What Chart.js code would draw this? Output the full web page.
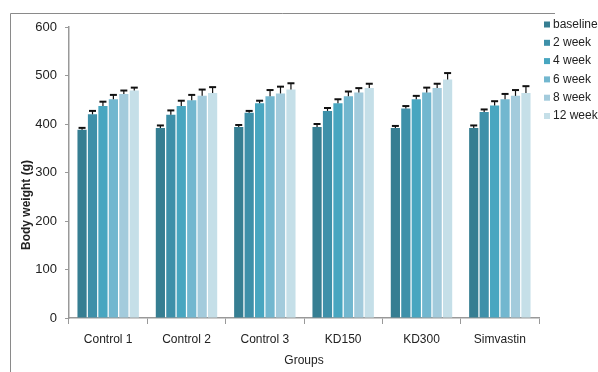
<!DOCTYPE html>
<html><head><meta charset="utf-8">
<script src="https://cdn.jsdelivr.net/npm/chart.js@4/dist/chart.umd.min.js"></script>
<style>html,body{margin:0;padding:0;background:#fff}#wrap{width:598px;height:372px;position:relative}</style>
</head><body><div id="wrap"><canvas id="c" width="598" height="372"></canvas></div>
<script>
const groups = ['Control 1','Control 2','Control 3','KD150','KD300','Simvastin'];
const seriesNames = ['baseline','2 week','4 week','6 week','8 week','12 week'];
const baseline = [388,392,394,394,392,392];
const week2 = [420,419,423,427,432,425];
const week4 = [437,437,443,443,451,438];
const week6 = [451,449,457,457,465,451];
const week8 = [462,458,463,465,474,458];
const week12 = [469,464,471,474,492,464];
const errBaseline = [4,5,4,6,4,5];
const errWeek2 = [7,9,4,6,5,5];
const errWeek4 = [9,11,5,8,7,9];
const errWeek6 = [9,11,13,10,10,11];
const errWeek8 = [7,13,14,9,9,12];
const errWeek12 = [6,12,13,9,13,14];
const yTickValues = [0,100,200,300,400,500,600];
const colors = ['#367e92','#3e90a9','#48a6c0','#72b7cf','#a3cbdc','#c5dfe8'];

const values = [baseline,week2,week4,week6,week8,week12];
const errors = [errBaseline,errWeek2,errWeek4,errWeek6,errWeek8,errWeek12];
const FONT = "'Liberation Sans', Arial, sans-serif";

const extras = {
  id: 'extras',
  beforeDraw(chart) {
    const ctx = chart.ctx;
    ctx.save();
    ctx.fillStyle = '#fff';
    ctx.fillRect(0,0,chart.width,chart.height);
    ctx.strokeStyle = '#8a8a8a';
    ctx.lineWidth = 1;
    ctx.beginPath();
    ctx.moveTo(10.5, 372);
    ctx.lineTo(10.5, 13.5);
    ctx.lineTo(555, 13.5);
    ctx.stroke();
    ctx.restore();
  },
  afterDatasetsDraw(chart) {
    const ctx = chart.ctx;
    const ys = chart.scales.y;
    ctx.save();
    ctx.strokeStyle = '#111';
    chart.data.datasets.forEach((ds, i) => {
      const meta = chart.getDatasetMeta(i);
      meta.data.forEach((bar, j) => {
        const top = ys.getPixelForValue(ds.data[j] + ds.errs[j]);
        ctx.lineWidth = 1.2;
        ctx.beginPath();
        ctx.moveTo(bar.x, bar.y);
        ctx.lineTo(bar.x, top);
        ctx.stroke();
        ctx.lineWidth = 2;
        ctx.beginPath();
        ctx.moveTo(bar.x - 3.5, top);
        ctx.lineTo(bar.x + 3.5, top);
        ctx.stroke();
      });
    });
    ctx.restore();
  },
  afterDraw(chart) {
    const ctx = chart.ctx;
    ctx.save();
    ctx.translate(27, 205);
    ctx.rotate(-Math.PI/2);
    ctx.fillStyle = '#222';
    ctx.font = "bold 12px " + FONT;
    ctx.textAlign = 'center';
    ctx.textBaseline = 'middle';
    ctx.fillText('Body weight (g)', 0, 0);
    ctx.restore();
    ctx.save();
    ctx.font = "12px " + FONT;
    ctx.textBaseline = 'middle';
    ctx.textAlign = 'left';
    chart.data.datasets.forEach((ds, i) => {
      const cy = 24.5 + i * 18.3;
      ctx.fillStyle = ds.backgroundColor;
      ctx.fillRect(544, cy - 3, 6, 6);
      ctx.fillStyle = '#222';
      ctx.fillText(ds.label, 553, cy);
    });
    ctx.restore();
  }
};

new Chart(document.getElementById('c'), {
  type: 'bar',
  data: {
    labels: groups,
    datasets: seriesNames.map((n, i) => ({
      label: n,
      data: values[i],
      errs: errors[i],
      backgroundColor: colors[i],
      borderWidth: 0,
      barPercentage: 0.88,
      categoryPercentage: 0.8
    }))
  },
  options: {
    responsive: false,
    devicePixelRatio: 1,
    animation: false,
    layout: { padding: { top: 27, right: 59, left: 0, bottom: 0 } },
    plugins: { legend: { display: false }, tooltip: { enabled: false } },
    scales: {
      x: {
        grid: { offset: true, drawOnChartArea: false, tickLength: 6, color: '#999', lineWidth: 1 },
        border: { color: '#999', width: 1.5 },
        ticks: { color: '#222', font: { family: FONT, size: 12 }, padding: 8, maxRotation: 0 },
        title: { display: true, text: 'Groups', color: '#222', font: { family: FONT, size: 12 }, padding: { top: 4 } },
        afterFit(s) { s.height = 54; }
      },
      y: {
        min: 0, max: 600,
        afterBuildTicks(s) { s.ticks = yTickValues.map(v => ({ value: v })); },
        grid: { drawOnChartArea: false, tickLength: 4, color: '#999' },
        border: { color: '#999', width: 1.5 },
        ticks: { color: '#222', font: { family: FONT, size: 13 }, padding: 8 },
        afterFit(s) { s.width = 69; }
      }
    }
  },
  plugins: [extras]
});
</script>
</body></html>
